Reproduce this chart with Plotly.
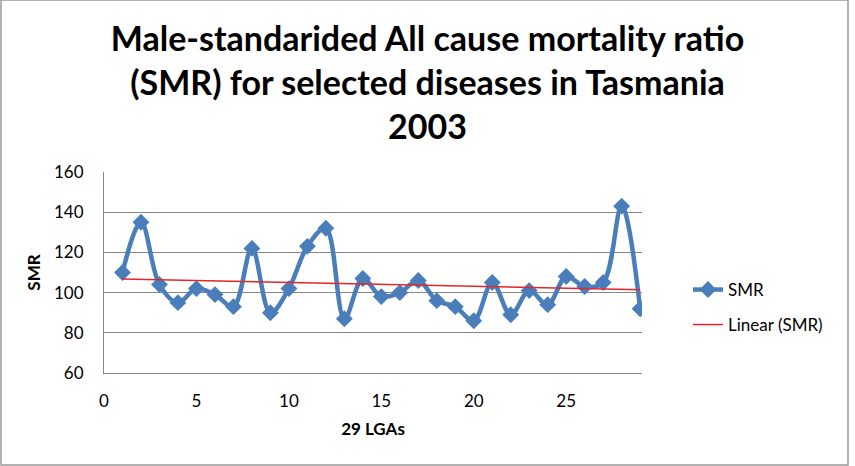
import numpy as np
import plotly.graph_objects as go

lga = list(range(1, 30))
smr = [110, 135, 104, 95, 102, 99, 93, 122, 90, 102, 123, 132, 87, 107, 98,
       100, 106, 96, 93, 86, 105, 89, 101, 94, 108, 103, 105, 143, 92]
x_ticks = [0, 5, 10, 15, 20, 25]
y_ticks = [60, 80, 100, 120, 140, 160]

slope, intercept = np.polyfit(lga, smr, 1)
trend_x = [lga[0], lga[-1]]
trend_y = [slope * v + intercept for v in trend_x]

W, H = 855, 466
L, R, T, B = 104, 213, 172, 93
pw, ph = W - L - R, H - T - B

def px(xpix):
    return (xpix - L) / pw

def py(ypix):
    return (H - B - ypix) / ph

FONT = "Lato"
fig = go.Figure()
fig.add_trace(go.Scatter(
    x=lga, y=smr, name="SMR", mode="lines+markers",
    line=dict(color="#4A7EBB", width=4.5, shape="spline", smoothing=1.0),
    marker=dict(symbol="diamond", size=13, color="#4A7EBB"),
    legend="legend", showlegend=True))
fig.add_trace(go.Scatter(
    x=trend_x, y=trend_y, name="Linear (SMR)", mode="lines",
    line=dict(color="#E3262B", width=1.5), legend="legend2", showlegend=True))

fig.update_layout(
    width=W, height=H,
    margin=dict(l=L, r=R, t=T, b=B),
    paper_bgcolor="white", plot_bgcolor="white",
    showlegend=True,
    title=dict(text="Male-standarided All cause mortality ratio<br>(SMR) for selected diseases in Tasmania<br>2003",
               x=0.5, xanchor="center", y=1 - 51 / H, yanchor="middle",
               font=dict(family=FONT, size=34, color="black", weight="bold")),
    font=dict(family=FONT, size=17, color="black"),
    legend=dict(x=px(688), y=py(290), xanchor="left", yanchor="middle",
                font=dict(size=17), bgcolor="rgba(0,0,0,0)", visible=True),
    legend2=dict(x=px(688), y=py(325), xanchor="left", yanchor="middle",
                 font=dict(size=17), bgcolor="rgba(0,0,0,0)", visible=True),
    xaxis=dict(range=[0, 29.1], tickvals=x_ticks, showgrid=False,
               showline=True, linecolor="#868686", linewidth=1.2,
               ticks="", zeroline=False, ticklabelstandoff=12,
               title=dict(text="<b>29 LGAs</b>", font=dict(size=17), standoff=13)),
    yaxis=dict(range=[60, 160], tickvals=y_ticks, showgrid=True,
               gridcolor="#868686", gridwidth=1.2,
               showline=True, linecolor="#868686", linewidth=1.2,
               ticks="", zeroline=False, ticklabelstandoff=16,
               title=dict(text="<b>SMR</b>", font=dict(size=17), standoff=8)),
    shapes=[dict(type="rect", xref="paper", yref="paper",
                 x0=px(1), x1=px(848), y0=py(465), y1=py(0),
                 line=dict(color="#999999", width=1.5), layer="below")],
)

fig.write_html("out.html")
